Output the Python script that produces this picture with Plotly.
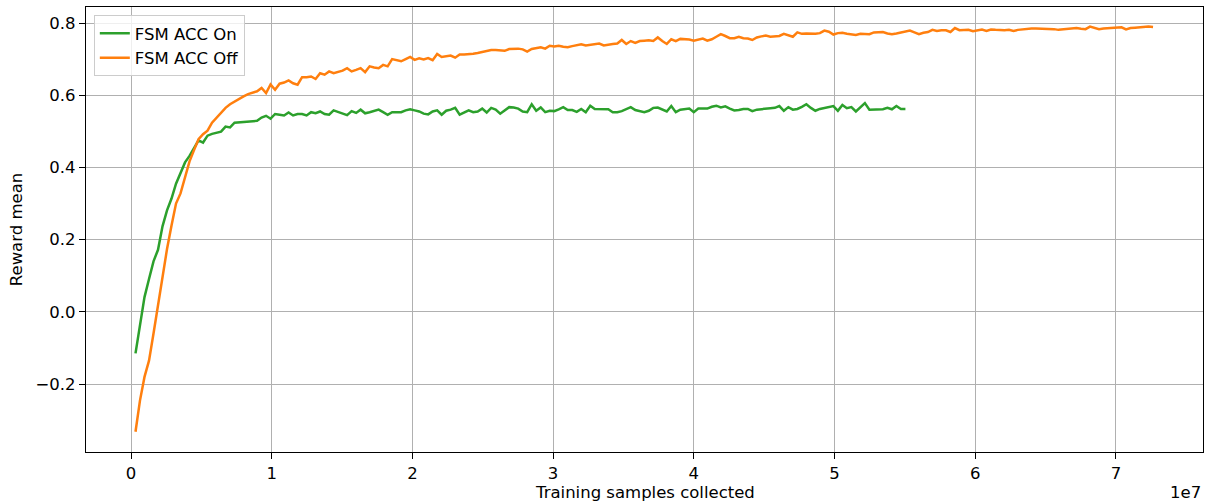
import plotly.graph_objects as go

sample_step = 320000  # samples collected between logged evaluations

reward_acc_on = [
    -0.115, -0.038, 0.041, 0.091, 0.140, 0.172, 0.237, 0.281, 0.314, 0.355,
    0.384, 0.414, 0.432, 0.452, 0.475, 0.469, 0.488, 0.493, 0.496, 0.499,
    0.513, 0.511, 0.524, 0.525, 0.527, 0.528, 0.530, 0.529, 0.538, 0.543,
    0.535, 0.548, 0.546, 0.544, 0.552, 0.544, 0.548, 0.548, 0.544, 0.553,
    0.550, 0.555, 0.548, 0.546, 0.558, 0.553, 0.548, 0.545, 0.556, 0.551,
    0.560, 0.550, 0.553, 0.556, 0.560, 0.553, 0.546, 0.553, 0.554, 0.553,
    0.558, 0.561, 0.558, 0.555, 0.549, 0.547, 0.555, 0.558, 0.546, 0.557,
    0.560, 0.565, 0.546, 0.553, 0.558, 0.553, 0.555, 0.563, 0.552, 0.565,
    0.560, 0.549, 0.558, 0.567, 0.566, 0.563, 0.555, 0.553, 0.575, 0.557,
    0.566, 0.553, 0.557, 0.556, 0.561, 0.567, 0.559, 0.559, 0.554, 0.562,
    0.553, 0.571, 0.562, 0.562, 0.561, 0.561, 0.553, 0.553, 0.556, 0.562,
    0.567, 0.559, 0.557, 0.553, 0.557, 0.565, 0.566, 0.561, 0.555, 0.570,
    0.553, 0.560, 0.561, 0.563, 0.553, 0.563, 0.563, 0.563, 0.568, 0.571,
    0.566, 0.569, 0.563, 0.558, 0.559, 0.562, 0.562, 0.556, 0.560, 0.562,
    0.563, 0.564, 0.565, 0.570, 0.557, 0.567, 0.560, 0.562, 0.568, 0.575,
    0.565, 0.557, 0.562, 0.565, 0.568, 0.570, 0.557, 0.573, 0.564, 0.567,
    0.555, 0.567, 0.578, 0.560, 0.561, 0.561, 0.561, 0.565, 0.561, 0.570,
    0.562, 0.562,
]

reward_acc_off = [
    -0.332, -0.245, -0.180, -0.135, -0.060, 0.020, 0.107, 0.174, 0.239, 0.300,
    0.328, 0.374, 0.417, 0.448, 0.478, 0.492, 0.502, 0.524, 0.538, 0.551,
    0.565, 0.575, 0.583, 0.590, 0.597, 0.603, 0.607, 0.611, 0.620, 0.606,
    0.630, 0.615, 0.632, 0.635, 0.641, 0.633, 0.629, 0.650, 0.650, 0.652,
    0.645, 0.661, 0.657, 0.666, 0.661, 0.665, 0.668, 0.675, 0.666, 0.670,
    0.675, 0.664, 0.680, 0.677, 0.675, 0.684, 0.680, 0.700, 0.697, 0.694,
    0.700, 0.706, 0.698, 0.702, 0.699, 0.703, 0.697, 0.714, 0.706, 0.707,
    0.710, 0.704, 0.713, 0.713, 0.713, 0.715, 0.717, 0.720, 0.723, 0.725,
    0.725, 0.724, 0.723, 0.728, 0.729, 0.729, 0.727, 0.721, 0.728, 0.730,
    0.733, 0.729, 0.737, 0.735, 0.737, 0.734, 0.733, 0.736, 0.739, 0.741,
    0.738, 0.740, 0.741, 0.743, 0.738, 0.741, 0.742, 0.743, 0.753, 0.742,
    0.750, 0.745, 0.750, 0.751, 0.752, 0.750, 0.760, 0.750, 0.742, 0.755,
    0.750, 0.756, 0.756, 0.754, 0.751, 0.754, 0.757, 0.751, 0.755, 0.762,
    0.769, 0.764, 0.758, 0.758, 0.762, 0.758, 0.757, 0.753, 0.760, 0.763,
    0.765, 0.762, 0.763, 0.764, 0.770, 0.766, 0.762, 0.774, 0.770, 0.771,
    0.770, 0.770, 0.772, 0.779, 0.776, 0.768, 0.772, 0.773, 0.770, 0.768,
    0.767, 0.770, 0.770, 0.769, 0.774, 0.775, 0.775, 0.771, 0.769, 0.771,
    0.774, 0.777, 0.779, 0.774, 0.769, 0.773, 0.775, 0.781, 0.778, 0.780,
    0.780, 0.775, 0.786, 0.780, 0.780, 0.781, 0.777, 0.779, 0.782, 0.778,
    0.782, 0.781, 0.780, 0.780, 0.781, 0.778, 0.781, 0.783, 0.785, 0.785,
    0.785, 0.785, 0.785, 0.785, 0.783, 0.781, 0.782, 0.784, 0.786, 0.786,
    0.784, 0.783, 0.790, 0.786, 0.783, 0.785, 0.786, 0.785, 0.787, 0.788,
    0.782, 0.786, 0.787, 0.788, 0.790, 0.790, 0.789,
]

series_names = ["FSM ACC On", "FSM ACC Off"]
series_colors = ["#2ca02c", "#ff7f0e"]

x_tick_vals = [0, 1e7, 2e7, 3e7, 4e7, 5e7, 6e7, 7e7]
x_tick_text = ["0", "1", "2", "3", "4", "5", "6", "7"]
y_tick_vals = [-0.2, 0.0, 0.2, 0.4, 0.6, 0.8]
y_tick_text = ["\u22120.2", "0.0", "0.2", "0.4", "0.6", "0.8"]

FONT = "DejaVu Sans"
FS = 16.5

fig = go.Figure()
for name, color, ys in zip(series_names, series_colors, [reward_acc_on, reward_acc_off]):
    xs = [sample_step * (i + 1) for i in range(len(ys))]
    fig.add_trace(go.Scatter(x=xs, y=ys, mode="lines", name=name,
                             line=dict(color=color, width=2.5)))

axis_common = dict(
    showline=True, linecolor="black", linewidth=1.3, mirror=True,
    ticks="outside", ticklen=6, tickwidth=1.3, tickcolor="black",
    showgrid=True, gridcolor="#b0b0b0", gridwidth=1.3, zeroline=False,
    tickfont=dict(family=FONT, size=FS, color="black"),
)

fig.update_layout(
    width=1211, height=504,
    margin=dict(l=86, r=8, t=7, b=52),
    paper_bgcolor="white", plot_bgcolor="white",
    font=dict(family=FONT, size=FS, color="black"),
    xaxis=dict(range=[-0.3198e7, 7.619e7], tickvals=x_tick_vals, ticktext=x_tick_text, **axis_common),
    yaxis=dict(range=[-0.388, 0.8443], tickvals=y_tick_vals, ticktext=y_tick_text, **axis_common),
    legend=dict(x=0.007, y=0.982, xanchor="left", yanchor="top",
                bgcolor="rgba(255,255,255,0.8)", bordercolor="#cccccc", borderwidth=1,
                font=dict(family=FONT, size=FS, color="black"),
                itemwidth=30, tracegroupgap=0),
    showlegend=True,
    annotations=[
        dict(text="Training samples collected", xref="paper", yref="paper",
             x=0.5, y=-0.092, xanchor="center", yanchor="middle", showarrow=False,
             font=dict(family=FONT, size=FS)),
        dict(text="1e7", xref="paper", yref="paper",
             x=1.0, y=-0.092, xanchor="right", yanchor="middle", showarrow=False,
             font=dict(family=FONT, size=FS)),
        dict(text="Reward mean", xref="paper", yref="paper",
             x=-0.062, y=0.5, xanchor="center", yanchor="middle", showarrow=False,
             textangle=-90, font=dict(family=FONT, size=FS)),
    ],
)

fig.write_html("out.html", config={"displayModeBar": False},
               post_script="document.body.style.margin='0';document.body.style.padding='0';")
